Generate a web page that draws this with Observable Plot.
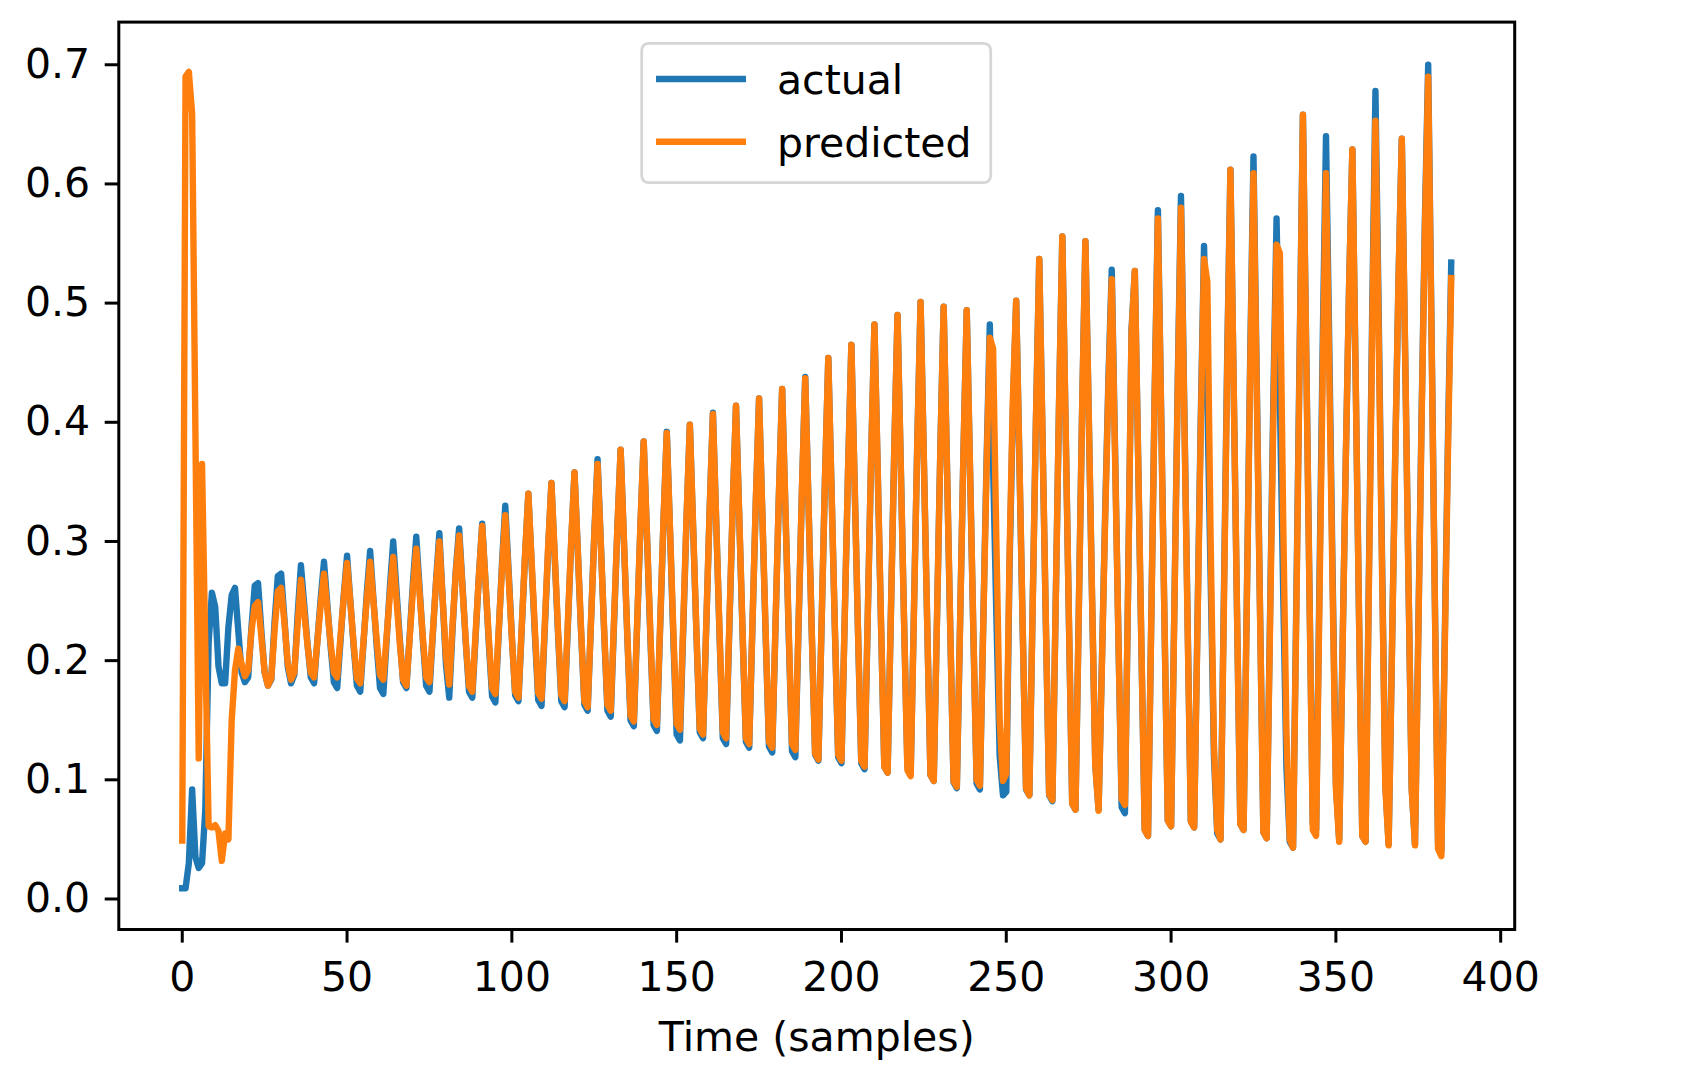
<!DOCTYPE html>
<html>
<head>
<meta charset="utf-8">
<script src="https://cdn.jsdelivr.net/npm/d3@7"></script>
<script src="https://cdn.jsdelivr.net/npm/@observablehq/plot@0.6"></script>
<style>
  html, body { margin: 0; padding: 0; background: #ffffff; }
  svg { display: block; }
</style>
</head>
<body>
<script>
// ---- data ----
const xTicks = [0, 50, 100, 150, 200, 250, 300, 350, 400];
const yTicks = [0.0, 0.1, 0.2, 0.3, 0.4, 0.5, 0.6, 0.7];
const seriesNames = ["actual", "predicted"];
const seriesColors = ["#1f77b4", "#ff7f0e"];
const xLabel = "Time (samples)";

const actual = [
  0.009,0.009,0.030,0.092,0.035,0.026,0.030,0.075,0.215,0.257,0.245,0.195,0.181,0.181,0.228,0.255,0.261,0.225,0.190,0.182,0.186,0.228, // 0-21
  0.263,0.265,0.225,0.190,0.179,0.184,0.232, // 22
  0.271,0.273,0.235,0.195,0.181,0.188,0.238, // 29
  0.280,0.247,0.214,0.186,0.181,0.217,0.252, // 36
  0.283,0.248,0.212,0.182,0.177,0.216,0.255, // 43
  0.288,0.250,0.212,0.179,0.174,0.215,0.257, // 50
  0.292,0.252,0.212,0.177,0.172,0.217,0.262, // 57
  0.300,0.259,0.218,0.182,0.177,0.221,0.266, // 64
  0.304,0.261,0.217,0.179,0.174,0.221,0.267, // 71
  0.307,0.252,0.197,0.169,0.226,0.276,       // 78
  0.311,0.264,0.216,0.174,0.169,0.220,0.271, // 84
  0.315,0.266,0.215,0.170,0.165,0.223,0.281, // 91
  0.330,0.276,0.220,0.171,0.166,0.227,0.288, // 98
  0.340,0.281,0.221,0.167,0.162,0.227,0.293, // 105
  0.349,0.287,0.223,0.166,0.161,0.230,0.299, // 112
  0.358,0.292,0.224,0.163,0.158,0.232,0.306, // 119
  0.369,0.298,0.224,0.158,0.153,0.231,0.310, // 126
  0.377,0.300,0.222,0.150,0.145,0.229,0.312, // 133
  0.384,0.304,0.221,0.146,0.141,0.229,0.317, // 140
  0.392,0.307,0.218,0.138,0.133,0.226,0.319, // 147
  0.398,0.311,0.222,0.140,0.135,0.231,0.326, // 154
  0.408,0.316,0.222,0.135,0.130,0.229,0.329, // 161
  0.414,0.319,0.222,0.132,0.127,0.230,0.332, // 168
  0.420,0.322,0.221,0.128,0.123,0.230,0.337, // 175
  0.428,0.326,0.221,0.124,0.119,0.231,0.342, // 182
  0.438,0.332,0.222,0.121,0.116,0.234,0.353, // 189
  0.454,0.342,0.226,0.119,0.114,0.237,0.360, // 196
  0.465,0.348,0.226,0.114,0.109,0.240,0.370, // 203
  0.482,0.358,0.230,0.111,0.106,0.240,0.375, // 210
  0.490,0.363,0.233,0.111,0.106,0.244,0.383, // 217
  0.501,0.368,0.232,0.104,0.099,0.238,0.378, // 224
  0.497,0.364,0.226,0.098,0.093,0.233,0.374, // 231
  0.494,0.361,0.225,0.097,0.092,0.229,0.365, // 238
  0.482,0.364,0.237,0.120,0.087,0.090,0.280,0.410, // 245
  0.502,0.365,0.224,0.092,0.087,0.245,0.402, // 253
  0.537,0.387,0.232,0.087,0.082,0.248,0.414, // 260
  0.556,0.397,0.234,0.080,0.075,0.242,0.409, // 267
  0.552,0.409,0.256,0.113,0.075,0.197,0.324,0.437, // 274
  0.528,0.378,0.222,0.077,0.072,0.270,0.478, // 282
  0.527,0.371,0.210,0.058,0.053,0.237,0.421, // 289
  0.578,0.407,0.232,0.066,0.061,0.246,0.431, // 296
  0.590,0.415,0.235,0.065,0.060,0.231,0.402, // 303
  0.548,0.420,0.270,0.120,0.055,0.050,0.250,0.450, // 310
  0.612,0.429,0.241,0.063,0.058,0.256,0.454, // 318
  0.623,0.434,0.240,0.056,0.051,0.233,0.415, // 325
  0.571,0.420,0.260,0.110,0.048,0.043,0.250,0.460, // 332
  0.658,0.460,0.256,0.063,0.058,0.262,0.465, // 340
  0.640,0.463,0.274,0.097,0.050,0.206,0.368,0.513, // 347
  0.629,0.437,0.240,0.053,0.048,0.269,0.489, // 355
  0.678,0.488,0.286,0.097,0.046,0.206,0.372,0.520, // 362
  0.638,0.460,0.271,0.093,0.046,0.223,0.406,0.569, // 370
  0.700,0.482,0.258,0.045,0.040,0.213,0.386,0.534  // 378-385
];

const predicted = [
  0.049,0.690,0.694,0.659,0.390,0.118,0.365,0.210,0.061,0.060,0.062,0.057,0.032,0.055,0.050,0.150,0.192,0.210,0.197,0.187,0.192,0.225, // 0-21
  0.246,0.249,0.220,0.190,0.179,0.185,0.225, // 22
  0.258,0.261,0.232,0.198,0.184,0.190,0.230, // 29
  0.268,0.241,0.213,0.190,0.186,0.216,0.247, // 36
  0.273,0.244,0.215,0.190,0.186,0.220,0.253, // 43
  0.282,0.249,0.214,0.185,0.181,0.217,0.252, // 50
  0.283,0.250,0.217,0.188,0.184,0.220,0.256, // 57
  0.287,0.251,0.215,0.184,0.179,0.219,0.260, // 64
  0.294,0.257,0.219,0.186,0.182,0.223,0.265, // 71
  0.300,0.252,0.204,0.180,0.230,0.274,       // 78
  0.305,0.262,0.217,0.179,0.174,0.223,0.271, // 84
  0.313,0.266,0.219,0.177,0.172,0.225,0.277, // 91
  0.322,0.272,0.219,0.174,0.169,0.229,0.289, // 98
  0.340,0.283,0.225,0.173,0.168,0.231,0.295, // 105
  0.349,0.289,0.226,0.171,0.166,0.233,0.300, // 112
  0.358,0.293,0.226,0.166,0.161,0.232,0.304, // 119
  0.365,0.297,0.226,0.163,0.158,0.235,0.311, // 126
  0.377,0.302,0.224,0.154,0.149,0.231,0.314, // 133
  0.384,0.305,0.225,0.151,0.146,0.232,0.318, // 140
  0.391,0.309,0.224,0.147,0.142,0.232,0.321, // 147
  0.398,0.312,0.224,0.143,0.138,0.232,0.326, // 154
  0.407,0.317,0.225,0.140,0.135,0.233,0.330, // 161
  0.414,0.320,0.224,0.135,0.130,0.232,0.333, // 168
  0.420,0.323,0.224,0.132,0.127,0.232,0.338, // 175
  0.428,0.328,0.225,0.130,0.125,0.234,0.343, // 182
  0.437,0.331,0.223,0.122,0.117,0.235,0.353, // 189
  0.454,0.342,0.228,0.121,0.116,0.238,0.360, // 196
  0.465,0.348,0.228,0.116,0.111,0.241,0.371, // 203
  0.482,0.360,0.233,0.111,0.106,0.240,0.375, // 210
  0.490,0.362,0.231,0.108,0.103,0.242,0.382, // 217
  0.501,0.369,0.234,0.104,0.099,0.238,0.377, // 224
  0.497,0.365,0.228,0.099,0.094,0.234,0.374, // 231
  0.494,0.362,0.227,0.100,0.095,0.227,0.358, // 238
  0.471,0.462,0.300,0.150,0.099,0.105,0.290,0.420, // 245
  0.502,0.366,0.226,0.093,0.087,0.244,0.401, // 253
  0.537,0.388,0.234,0.088,0.083,0.249,0.415, // 260
  0.556,0.398,0.236,0.080,0.075,0.241,0.408, // 267
  0.552,0.410,0.258,0.112,0.074,0.194,0.319,0.431, // 274
  0.520,0.372,0.222,0.084,0.079,0.270,0.475, // 282
  0.527,0.372,0.212,0.058,0.053,0.235,0.418, // 289
  0.571,0.404,0.233,0.066,0.061,0.243,0.424, // 296
  0.580,0.408,0.232,0.065,0.060,0.227,0.394, // 303
  0.537,0.518,0.300,0.130,0.058,0.050,0.240,0.440, // 310
  0.612,0.430,0.243,0.063,0.058,0.251,0.444, // 318
  0.609,0.425,0.237,0.056,0.051,0.225,0.400, // 325
  0.549,0.542,0.320,0.140,0.050,0.043,0.240,0.450, // 332
  0.658,0.458,0.252,0.058,0.053,0.248,0.442, // 340
  0.609,0.441,0.261,0.093,0.048,0.205,0.368,0.513, // 347
  0.629,0.438,0.242,0.053,0.048,0.260,0.472, // 355
  0.653,0.471,0.276,0.094,0.045,0.205,0.371,0.519, // 362
  0.638,0.461,0.272,0.092,0.045,0.219,0.400,0.561, // 370
  0.690,0.477,0.254,0.042,0.036,0.205,0.375,0.521  // 378-385
];

// ---- chart ----
const W = 1694, H = 1078;
const font = "DejaVu Sans, Liberation Sans, sans-serif";
const fs = 41;
const lw = 6.4;

const svg = Plot.plot({
  width: W,
  height: H,
  marginLeft: 118.3,
  marginRight: 179.8,
  marginTop: 21.6,
  marginBottom: 149,
  style: { fontFamily: font, fontSize: fs + "px", color: "#000", background: "#fff", overflow: "visible" },
  x: { domain: [-19.25, 404.25] },
  y: { domain: [-0.0256, 0.7358] },
  marks: [
    Plot.line(actual, { x: (d, i) => i, y: d => d, stroke: seriesColors[0], strokeWidth: lw, strokeLinecap: "square", strokeLinejoin: "round" }),
    Plot.line(predicted, { x: (d, i) => i, y: d => d, stroke: seriesColors[1], strokeWidth: lw, strokeLinecap: "square", strokeLinejoin: "round" }),
    Plot.frame({ stroke: "#000", strokeWidth: 3 }),
    Plot.axisX({ ticks: xTicks, tickFormat: d => String(d), tickSize: 13.6, tickPadding: 19, strokeWidth: 3, label: null, fontSize: fs }),
    Plot.axisY({ ticks: yTicks, tickFormat: d3.format(".1f"), tickSize: 13.6, tickPadding: 15, strokeWidth: 3, label: null, fontSize: fs }),
    Plot.text([xLabel], { frameAnchor: "bottom", dy: 121, fontSize: fs, fill: "#000" })
  ]
});

// ---- legend ----
const g = d3.select(svg).append("g")
  .attr("font-family", font).attr("font-size", fs).attr("text-anchor", "start");
g.append("rect")
  .attr("x", 641.7).attr("y", 43.3).attr("width", 349).attr("height", 139.4)
  .attr("rx", 7).attr("ry", 7)
  .attr("fill", "#fff").attr("fill-opacity", 0.8)
  .attr("stroke", "#d6d6d6").attr("stroke-width", 2.8);
const rowY = [79, 141.7];
seriesNames.forEach((name, i) => {
  g.append("line")
    .attr("x1", 656).attr("x2", 746).attr("y1", rowY[i]).attr("y2", rowY[i])
    .attr("stroke", seriesColors[i]).attr("stroke-width", lw).attr("stroke-linecap", "butt");
  g.append("text")
    .attr("x", 777).attr("y", rowY[i] + 15)
    .attr("text-anchor", "start")
    .attr("fill", "#000")
    .text(name);
});

document.body.appendChild(svg);
</script>
</body>
</html>
